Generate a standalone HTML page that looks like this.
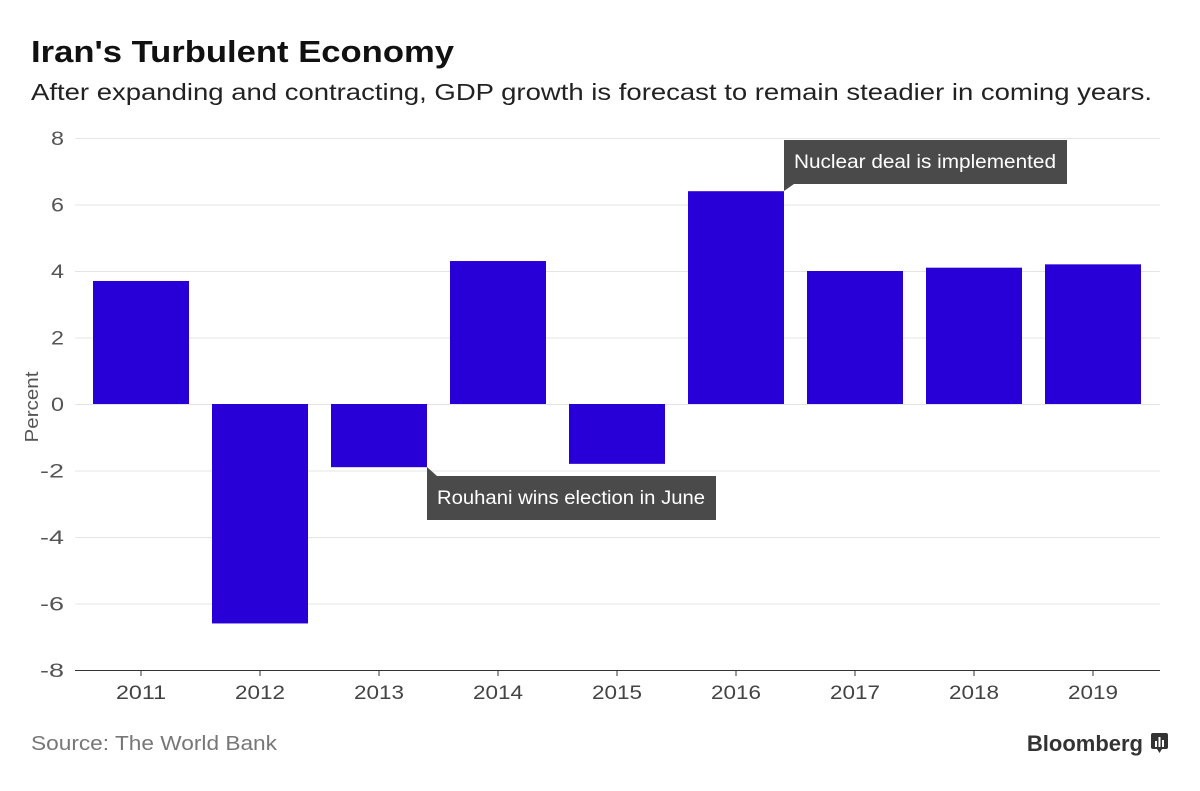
<!DOCTYPE html>
<html><head><meta charset="utf-8"><style>
body{margin:0;background:#fff;width:1200px;height:786px;overflow:hidden;font-family:"Liberation Sans",sans-serif}
</style></head><body>
<svg width="1200" height="786" xmlns="http://www.w3.org/2000/svg">
<text x="31" y="62" font-size="31" font-weight="bold" fill="#111" textLength="423" lengthAdjust="spacingAndGlyphs">Iran's Turbulent Economy</text>
<text x="31" y="100" font-size="23" fill="#222" textLength="1121" lengthAdjust="spacingAndGlyphs">After expanding and contracting, GDP growth is forecast to remain steadier in coming years.</text>
<g id="grid"></g>
<g id="yt"></g>
<text transform="translate(38,407) rotate(-90)" text-anchor="middle" font-size="18" fill="#555" textLength="71" lengthAdjust="spacingAndGlyphs">Percent</text>
<g id="bars"></g>
<g id="xt"></g>
<line x1="75" x2="1160" y1="670.5" y2="670.5" stroke="#333" stroke-width="1"/>
<g>
<rect x="784" y="140" width="283" height="44" fill="#4a4a4a"/>
<polygon points="784,184 794,184 784,191" fill="#4a4a4a"/>
<text x="794" y="168" font-size="19" fill="#fff" textLength="262" lengthAdjust="spacingAndGlyphs">Nuclear deal is implemented</text>
</g>
<g>
<rect x="427" y="476" width="289" height="44" fill="#4a4a4a"/>
<polygon points="427,476 437,476 427,467" fill="#4a4a4a"/>
<text x="437" y="504" font-size="19" fill="#fff" textLength="268" lengthAdjust="spacingAndGlyphs">Rouhani wins election in June</text>
</g>
<text x="31" y="750" font-size="20" fill="#777" textLength="246" lengthAdjust="spacingAndGlyphs">Source: The World Bank</text>
<text x="1143" y="751" text-anchor="end" font-size="22" font-weight="bold" fill="#333">Bloomberg</text>
<g>
<rect x="1151" y="733" width="17" height="16" rx="2" fill="#333"/>
<polygon points="1157,749 1162,749 1159.5,753" fill="#333"/>
<rect x="1155" y="741" width="2" height="6" fill="#fff"/><rect x="1158.5" y="737" width="2" height="10" fill="#fff"/><rect x="1162" y="740" width="2" height="7" fill="#fff"/>
</g>
</svg>
<script>
const years=["2011","2012","2013","2014","2015","2016","2017","2018","2019"];
const gdp=[3.7,-6.6,-1.9,4.3,-1.8,6.4,4.0,4.1,4.2];
const yTicks=[8,6,4,2,0,-2,-4,-6,-8];
const NS="http://www.w3.org/2000/svg";
const y=v=>404-v*33.25;
const x=i=>141+i*119;
const bw=96;
function mk(t,a,p){const e=document.createElementNS(NS,t);for(const k in a)e.setAttribute(k,a[k]);p.appendChild(e);return e;}
const grid=document.getElementById('grid'),yt=document.getElementById('yt'),bars=document.getElementById('bars'),xt=document.getElementById('xt');
yTicks.forEach(v=>{
  if(v!==-8){const l=mk('line',{x1:75,x2:1160,y1:y(v)+0.5,y2:y(v)+0.5,stroke:'#e4e4e4'},grid);
  
  }
  const s=String(v);
  const t=mk('text',{x:64,y:y(v)+7,'text-anchor':'end','font-size':19,fill:'#555',textLength:(v<0?24:13),lengthAdjust:'spacingAndGlyphs'},yt);
  t.textContent=s;
  
  
});
years.forEach((yr,i)=>{
  const v=gdp[i];
  const r=mk('rect',{x:x(i)-bw/2,y:Math.min(y(v),y(0)),width:bw,height:Math.abs(y(v)-y(0)),fill:'#2800d7'},bars);
  
  
  const tk=mk('line',{x1:x(i),x2:x(i),y1:670,y2:676,stroke:'#333'},xt);
  
  
  const t=mk('text',{x:x(i),y:699,'text-anchor':'middle','font-size':19,fill:'#444',textLength:50,lengthAdjust:'spacingAndGlyphs'},xt);
  t.textContent=yr;
  
  
});
</script>
</body></html>
